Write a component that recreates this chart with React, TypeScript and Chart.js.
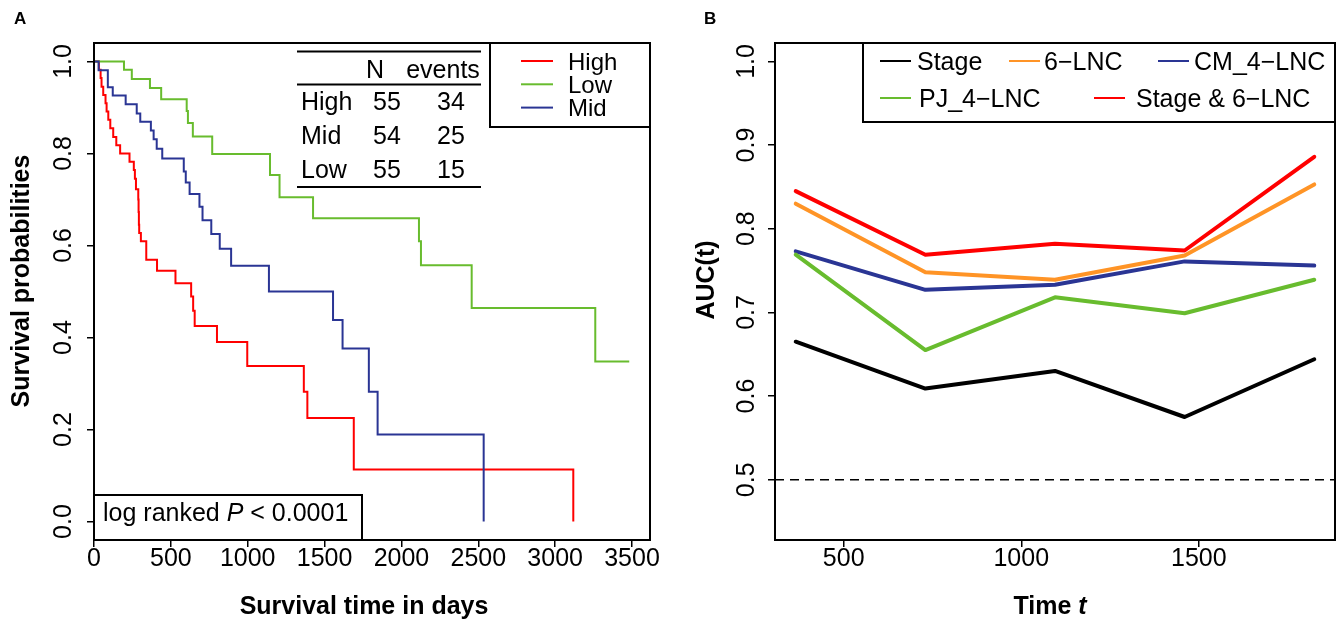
import React, { useEffect, useRef } from 'react';
import { Chart, registerables } from 'chart.js';

Chart.register(...registerables);

const FONT = '"Liberation Sans", Arial, Helvetica, sans-serif';

// ---------------- Panel A : Kaplan-Meier ----------------
const A_X_TICKS = [0, 500, 1000, 1500, 2000, 2500, 3000, 3500];
const A_X_LABELS = ['0', '500', '1000', '1500', '2000', '2500', '3000', '3500'];
const A_Y_TICKS = [0, 0.2, 0.4, 0.6, 0.8, 1.0];
const A_Y_LABELS = ['0.0', '0.2', '0.4', '0.6', '0.8', '1.0'];
const A_X_RANGE = [0, 3617];
const A_Y_RANGE = [-0.04, 1.04];

const HIGH_TIME = [0, 32, 43, 49, 60, 75, 82, 93, 106, 125, 145, 170, 231, 259, 266, 273, 288, 290, 292, 294, 305, 340, 410, 530, 632, 645, 655, 800, 997, 1365, 1388, 1690, 3118];
const HIGH_SURV = [1, 0.982, 0.964, 0.945, 0.927, 0.909, 0.891, 0.873, 0.855, 0.836, 0.818, 0.8, 0.782, 0.764, 0.745, 0.722, 0.7, 0.673, 0.645, 0.627, 0.609, 0.569, 0.545, 0.518, 0.489, 0.458, 0.425, 0.39, 0.338, 0.282, 0.225, 0.113, 0];

const MID_TIME = [0, 30, 90, 122, 206, 278, 301, 370, 388, 408, 444, 584, 597, 622, 686, 706, 763, 818, 892, 1138, 1555, 1617, 1788, 1845, 2535];
const MID_SURV = [1, 0.981, 0.944, 0.926, 0.907, 0.887, 0.869, 0.85, 0.831, 0.81, 0.789, 0.761, 0.737, 0.712, 0.684, 0.655, 0.625, 0.593, 0.556, 0.5, 0.438, 0.376, 0.282, 0.189, 0];

const LOW_TIME = [0, 195, 246, 364, 437, 603, 611, 643, 769, 1145, 1207, 1425, 2114, 2127, 2457, 3261, 3482];
const LOW_SURV = [1, 0.982, 0.962, 0.942, 0.918, 0.892, 0.866, 0.837, 0.799, 0.753, 0.705, 0.659, 0.609, 0.557, 0.464, 0.348, 0.348];

const LEGEND_A = ['High', 'Low', 'Mid'];
const TABLE_GROUPS = ['High', 'Mid', 'Low'];
const TABLE_N = ['55', '54', '55'];
const TABLE_EVENTS = ['34', '25', '15'];

// ---------------- Panel B : time-dependent AUC ----------------
const B_TIMES = [365, 730, 1095, 1460, 1825];
const AUC_STAGE = [0.665, 0.609, 0.63, 0.575, 0.644];
const AUC_6LNC = [0.83, 0.748, 0.739, 0.768, 0.853];
const AUC_CM4 = [0.773, 0.727, 0.733, 0.761, 0.756];
const AUC_PJ4 = [0.769, 0.655, 0.718, 0.699, 0.739];
const AUC_STAGE_6LNC = [0.845, 0.769, 0.782, 0.774, 0.886];
const REF_AUC = 0.5;

const B_X_TICKS = [500, 1000, 1500];
const B_X_LABELS = ['500', '1000', '1500'];
const B_Y_TICKS = [0.5, 0.6, 0.7, 0.8, 0.9, 1.0];
const B_Y_LABELS = ['0.5', '0.6', '0.7', '0.8', '0.9', '1.0'];
const B_X_RANGE = [306.6, 1883.4];
const B_Y_RANGE = [0.428, 1.022];

const C_RED = '#FF0000';
const C_GREEN = '#68BC2E';
const C_BLUE = '#2A3594';
const C_ORANGE = '#FF9426';
const C_BLACK = '#000000';

const W = 672;
const H = 621;
const X_LABEL_BASE = 566;

function axis(range: number[], ticks: number[], key: 'width' | 'height', size: number) {
  return {
    type: 'linear' as const,
    min: range[0],
    max: range[1],
    afterBuildTicks: (s: any) => {
      s.ticks = ticks.map((v) => ({ value: v }));
    },
    afterFit: (s: any) => {
      s[key] = size;
    },
    ticks: { display: false },
    grid: {
      display: true,
      drawOnChartArea: false,
      drawTicks: true,
      tickLength: 7,
      color: '#000',
      lineWidth: 1.5,
    },
    border: { display: false },
  };
}

function runs(ctx: CanvasRenderingContext2D, parts: { t: string; f: string }[], x: number, y: number, align: 'left' | 'center') {
  let total = 0;
  parts.forEach((p) => {
    ctx.font = p.f;
    total += ctx.measureText(p.t).width;
  });
  let cx = align === 'center' ? x - total / 2 : x;
  ctx.textAlign = 'left';
  parts.forEach((p) => {
    ctx.font = p.f;
    ctx.fillText(p.t, cx, y);
    cx += ctx.measureText(p.t).width;
  });
}

function vtext(ctx: CanvasRenderingContext2D, s: string, x: number, y: number, font: string) {
  ctx.save();
  ctx.translate(x, y);
  ctx.rotate(-Math.PI / 2);
  ctx.font = font;
  ctx.textAlign = 'center';
  ctx.textBaseline = 'alphabetic';
  ctx.fillText(s, 0, 0);
  ctx.restore();
}

function seg(ctx: CanvasRenderingContext2D, x1: number, y1: number, x2: number, y2: number, color: string, lw: number) {
  ctx.beginPath();
  ctx.strokeStyle = color;
  ctx.lineWidth = lw;
  ctx.moveTo(x1, y1);
  ctx.lineTo(x2, y2);
  ctx.stroke();
}

const N25 = `25px ${FONT}`;
const N24 = `24px ${FONT}`;
const B25 = `bold 25px ${FONT}`;

const panelAPlugin = {
  id: 'panelA',
  afterDraw(chart: any) {
    const { ctx, chartArea: ca } = chart;
    const x = chart.scales.x;
    const y = chart.scales.y;
    ctx.save();
    ctx.fillStyle = '#000';
    ctx.strokeStyle = '#000';
    ctx.lineWidth = 2;
    ctx.strokeRect(ca.left, ca.top, ca.right - ca.left, ca.bottom - ca.top);

    ctx.font = N25;
    ctx.textAlign = 'center';
    ctx.textBaseline = 'alphabetic';
    A_X_TICKS.forEach((v, i) => ctx.fillText(A_X_LABELS[i], x.getPixelForValue(v), X_LABEL_BASE));
    A_Y_TICKS.forEach((v, i) => vtext(ctx, A_Y_LABELS[i], 71, y.getPixelForValue(v), N25));

    ctx.textAlign = 'center';
    ctx.font = B25;
    ctx.fillText('Survival time in days', 364, 614);
    vtext(ctx, 'Survival probabilities', 29, 281, B25);

    ctx.font = `bold 17px ${FONT}`;
    ctx.textAlign = 'left';
    ctx.fillText('A', 14, 24);

    // risk table
    seg(ctx, 297, 51.5, 481, 51.5, '#000', 2);
    seg(ctx, 297, 84.5, 481, 84.5, '#000', 2);
    seg(ctx, 297, 187, 481, 187, '#000', 2);
    ctx.font = N25;
    ctx.fillStyle = '#000';
    ctx.textAlign = 'center';
    ctx.fillText('N', 375, 78);
    ctx.fillText('events', 443, 78);
    TABLE_GROUPS.forEach((g, i) => {
      const by = 110 + i * 34;
      ctx.textAlign = 'left';
      ctx.fillText(g, 301, by);
      ctx.textAlign = 'center';
      ctx.fillText(TABLE_N[i], 387, by);
      ctx.fillText(TABLE_EVENTS[i], 451, by);
    });

    // legend
    ctx.fillStyle = '#fff';
    ctx.fillRect(490, ca.top, ca.right - 490, 127 - ca.top);
    ctx.strokeStyle = '#000';
    ctx.lineWidth = 2;
    ctx.strokeRect(490, ca.top, ca.right - 490, 127 - ca.top);
    const legColors = [C_RED, C_GREEN, C_BLUE];
    ctx.font = N24;
    LEGEND_A.forEach((g, i) => {
      const cy = 61 + i * 23.3;
      seg(ctx, 521, cy, 553, cy, legColors[i], 2);
      ctx.fillStyle = '#000';
      ctx.textAlign = 'left';
      ctx.fillText(g, 568, cy + 8.5);
    });

    // log-rank box
    ctx.fillStyle = '#fff';
    ctx.fillRect(ca.left, 495, 362 - ca.left, ca.bottom - 495);
    ctx.strokeStyle = '#000';
    ctx.lineWidth = 2;
    ctx.strokeRect(ca.left, 495, 362 - ca.left, ca.bottom - 495);
    ctx.fillStyle = '#000';
    runs(ctx, [
      { t: 'log ranked ', f: N25 },
      { t: 'P', f: `italic 25px ${FONT}` },
      { t: ' < 0.0001', f: N25 },
    ], 103, 521, 'left');
    ctx.restore();
  },
};

const OFF = 672;
const panelBPlugin = {
  id: 'panelB',
  afterDraw(chart: any) {
    const { ctx, chartArea: ca } = chart;
    const x = chart.scales.x;
    const y = chart.scales.y;
    ctx.save();
    ctx.fillStyle = '#000';
    ctx.strokeStyle = '#000';
    ctx.lineWidth = 2;
    ctx.strokeRect(ca.left, ca.top, ca.right - ca.left, ca.bottom - ca.top);

    ctx.font = N25;
    ctx.textAlign = 'center';
    ctx.textBaseline = 'alphabetic';
    B_X_TICKS.forEach((v, i) => ctx.fillText(B_X_LABELS[i], x.getPixelForValue(v), X_LABEL_BASE));
    B_Y_TICKS.forEach((v, i) => vtext(ctx, B_Y_LABELS[i], 754 - OFF, y.getPixelForValue(v), N25));

    ctx.fillStyle = '#000';
    runs(ctx, [
      { t: 'Time ', f: B25 },
      { t: 't', f: `italic bold 25px ${FONT}` },
    ], 1050 - OFF, 614, 'center');
    vtext(ctx, 'AUC(t)', 714 - OFF, 280, B25);

    ctx.font = `bold 17px ${FONT}`;
    ctx.textAlign = 'left';
    ctx.fillText('B', 704 - OFF, 24);

    // legend
    const lx = 863 - OFF;
    ctx.fillStyle = '#fff';
    ctx.fillRect(lx, ca.top, ca.right - lx, 122 - ca.top);
    ctx.strokeStyle = '#000';
    ctx.lineWidth = 2;
    ctx.strokeRect(lx, ca.top, ca.right - lx, 122 - ca.top);
    const items = [
      { name: 'Stage', color: C_BLACK, l: 880, t: 917, r: 61 },
      { name: '6\u2212LNC', color: C_ORANGE, l: 1009, t: 1044, r: 61 },
      { name: 'CM_4\u2212LNC', color: C_BLUE, l: 1158, t: 1194, r: 61 },
      { name: 'PJ_4\u2212LNC', color: C_GREEN, l: 880, t: 919, r: 98 },
      { name: 'Stage & 6\u2212LNC', color: C_RED, l: 1094, t: 1136, r: 98 },
    ];
    ctx.font = N25;
    items.forEach((it) => {
      seg(ctx, it.l - OFF, it.r, it.l + 31 - OFF, it.r, it.color, 2);
      ctx.fillStyle = '#000';
      ctx.textAlign = 'left';
      ctx.fillText(it.name, it.t - OFF, it.r + 9);
    });
    ctx.restore();
  },
};

function kmSet(time: number[], surv: number[], color: string) {
  return {
    data: time.map((t, i) => ({ x: t, y: surv[i] })),
    borderColor: color,
    borderWidth: 2,
    stepped: 'before' as const,
    pointRadius: 0,
    fill: false,
    borderJoinStyle: 'miter' as const,
  };
}

function aucSet(vals: number[], color: string) {
  return {
    data: B_TIMES.map((t, i) => ({ x: t, y: vals[i] })),
    borderColor: color,
    borderWidth: 4,
    pointRadius: 0,
    tension: 0,
    fill: false,
    borderCapStyle: 'round' as const,
    borderJoinStyle: 'round' as const,
  };
}

export default function App() {
  const refA = useRef<HTMLCanvasElement>(null);
  const refB = useRef<HTMLCanvasElement>(null);

  useEffect(() => {
    const chartA = new Chart(refA.current as HTMLCanvasElement, {
      type: 'line',
      data: {
        datasets: [
          kmSet(MID_TIME, MID_SURV, C_BLUE),
          kmSet(LOW_TIME, LOW_SURV, C_GREEN),
          kmSet(HIGH_TIME, HIGH_SURV, C_RED),
        ] as any,
      },
      options: {
        animation: false,
        responsive: false,
        maintainAspectRatio: false,
        devicePixelRatio: 1,
        layout: { padding: { left: 0, top: 43, right: W - 650, bottom: 0 } },
        plugins: { legend: { display: false }, tooltip: { enabled: false }, title: { display: false } },
        scales: {
          x: axis(A_X_RANGE, A_X_TICKS, 'height', H - 540),
          y: axis(A_Y_RANGE, A_Y_TICKS, 'width', 94),
        } as any,
      },
      plugins: [panelAPlugin],
    });

    const chartB = new Chart(refB.current as HTMLCanvasElement, {
      type: 'line',
      data: {
        datasets: [
          aucSet(AUC_STAGE_6LNC, C_RED),
          aucSet(AUC_PJ4, C_GREEN),
          aucSet(AUC_CM4, C_BLUE),
          aucSet(AUC_6LNC, C_ORANGE),
          aucSet(AUC_STAGE, C_BLACK),
          {
            data: [
              { x: B_X_RANGE[0], y: REF_AUC },
              { x: B_X_RANGE[1], y: REF_AUC },
            ],
            borderColor: '#000',
            borderWidth: 1.5,
            borderDash: [9, 6],
            pointRadius: 0,
            fill: false,
          },
        ] as any,
      },
      options: {
        animation: false,
        responsive: false,
        maintainAspectRatio: false,
        devicePixelRatio: 1,
        layout: { padding: { left: 0, top: 43, right: W - (1335 - OFF), bottom: 0 } },
        plugins: { legend: { display: false }, tooltip: { enabled: false }, title: { display: false } },
        scales: {
          x: axis(B_X_RANGE, B_X_TICKS, 'height', H - 540),
          y: axis(B_Y_RANGE, B_Y_TICKS, 'width', 775 - OFF),
        } as any,
      },
      plugins: [panelBPlugin],
    });

    return () => {
      chartA.destroy();
      chartB.destroy();
    };
  }, []);

  return (
    <div style={{ position: 'fixed', left: 0, top: 0, width: 1344, height: 621, background: '#fff' }}>
      <canvas ref={refA} width={W} height={H} style={{ position: 'absolute', left: 0, top: 0, width: W, height: H }} />
      <canvas ref={refB} width={W} height={H} style={{ position: 'absolute', left: OFF, top: 0, width: W, height: H }} />
    </div>
  );
}
